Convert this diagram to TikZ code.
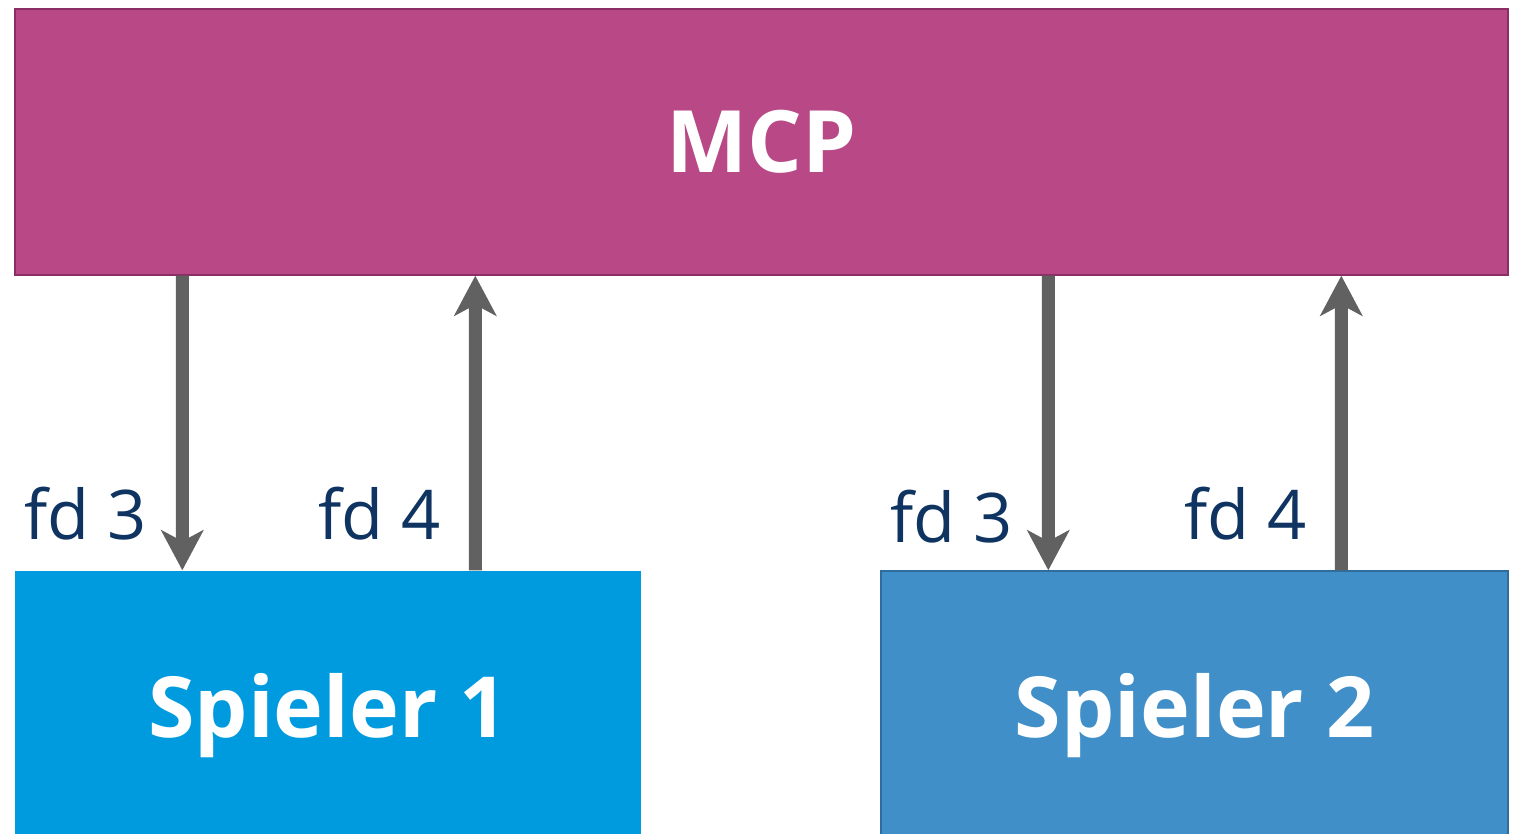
\documentclass[tikz,border=0pt]{standalone}
\usepackage{fontspec}
\setmainfont{Open Sans}
\usetikzlibrary{calc,arrows.meta}

\begin{document}
\begin{tikzpicture}
    \definecolor{Cmcp}{HTML}{B84886}
    \definecolor{Cmcpline}{HTML}{8A2E64}
    \definecolor{Cone}{HTML}{009BDF}
    \definecolor{Ctwo}{HTML}{418FC8}
    \definecolor{Ctwoline}{HTML}{2E6E9E}
    \definecolor{Carrow}{HTML}{616161}
    \definecolor{Clabel}{HTML}{0F3461}

    \tikzset{
        box/.style={shape=rectangle, inner sep=0pt, text=white, font=\bfseries\fontsize{24}{28}\selectfont},
        pipe/.style={draw=Carrow, line width=0.13cm, -{Stealth[length=0.40cm, width=0.42cm, inset=0.11cm]}},
        fdlabel/.style={anchor=base east, inner sep=0pt, text=Clabel, font=\fontsize{19.5}{22}\selectfont}
    }

    \useasboundingbox (0,0) rectangle (15.19,8.33);

    \node[box, draw=Cmcpline, fill=Cmcp, minimum width=14.93cm, minimum height=2.66cm, font=\bfseries\fontsize{24.5}{28}\selectfont] (mcp) at (7.615,6.91) {MCP};
    \node[box, fill=Cone, minimum width=6.26cm, minimum height=2.90cm] (s1) at (3.28,1.17) {Spieler 1};
    \node[box, draw=Ctwoline, fill=Ctwo, minimum width=6.27cm, minimum height=2.90cm] (s2) at (11.945,1.17) {Spieler 2};

    \path[pipe] ($ (mcp.south west) + (1.68,0) $) -- ($ (s1.north west) + (1.68,0) $);
    \path[pipe] ($ (s1.north west) + (4.61,0) $) -- ($ (mcp.south west) + (4.61,0) $);
    \path[pipe] ($ (mcp.south west) + (10.34,0) $) -- ($ (s2.north west) + (1.68,0) $);
    \path[pipe] ($ (s2.north west) + (4.61,0) $) -- ($ (mcp.south west) + (13.27,0) $);

    \node[fdlabel] (fd13) at ($ (s1.north west) + (1.33,0.31) $) {fd 3};
    \node[fdlabel] (fd14) at ($ (s1.north west) + (4.27,0.31) $) {fd 4};
    \node[fdlabel] (fd23) at ($ (s2.north west) + (1.33,0.28) $) {fd 3};
    \node[fdlabel] (fd24) at ($ (s2.north west) + (4.27,0.31) $) {fd 4};

\end{tikzpicture}
\end{document}
